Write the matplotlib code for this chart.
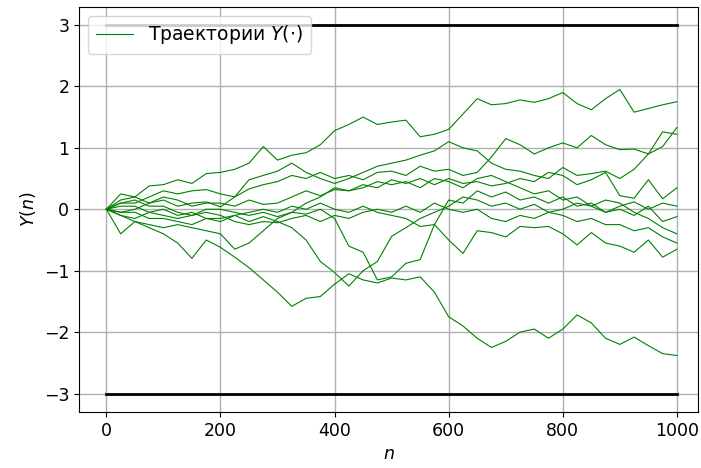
import matplotlib
matplotlib.use("Agg")
import matplotlib.pyplot as plt

steps = list(range(0, 1001, 25))

# trajectories Y(n), values
path_top = [0.0, 0.25, 0.2, 0.38, 0.4, 0.48, 0.42, 0.58, 0.6, 0.65, 0.75, 1.02, 0.8, 0.88, 0.92, 1.05,
            1.28, 1.38, 1.5, 1.38, 1.42, 1.45, 1.18, 1.22, 1.3, 1.55, 1.8, 1.7, 1.72, 1.78, 1.74, 1.8,
            1.9, 1.72, 1.62, 1.8, 1.95, 1.58, 1.64, 1.7, 1.75]
path_a = [0.0, 0.1, 0.1, 0.2, 0.3, 0.25, 0.3, 0.32, 0.25, 0.2, 0.33, 0.4, 0.45, 0.55, 0.5, 0.6,
          0.5, 0.55, 0.48, 0.6, 0.62, 0.55, 0.7, 0.62, 0.65, 0.55, 0.6, 0.85, 1.15, 1.05, 0.9, 1.0,
          1.08, 1.0, 1.2, 1.05, 0.97, 0.98, 0.9, 1.26, 1.22]
path_b = [0.0, -0.05, 0.0, 0.1, 0.15, 0.05, 0.1, 0.12, 0.04, 0.2, 0.48, 0.55, 0.62, 0.75, 0.6, 0.5,
          0.42, 0.5, 0.6, 0.7, 0.75, 0.8, 0.88, 0.95, 1.1, 1.0, 0.95, 0.75, 0.65, 0.62, 0.55, 0.5,
          0.68, 0.55, 0.58, 0.62, 0.5, 0.65, 0.9, 1.02, 1.33]
path_c = [0.0, 0.15, 0.2, 0.1, 0.2, 0.15, 0.05, 0.1, 0.1, 0.05, 0.15, 0.08, 0.1, 0.2, 0.3, 0.22,
          0.32, 0.3, 0.4, 0.35, 0.48, 0.42, 0.5, 0.4, 0.5, 0.42, 0.45, 0.38, 0.42, 0.5, 0.45, 0.6,
          0.55, 0.4, 0.48, 0.6, 0.22, 0.18, 0.48, 0.17, 0.35]
path_d = [0.0, -0.1, -0.15, -0.05, 0.0, -0.1, -0.05, -0.15, -0.15, -0.1, -0.2, -0.12, -0.2, -0.3, -0.5, -0.85,
          -1.03, -1.25, -1.0, -0.85, -0.44, -0.3, -0.15, -0.05, 0.05, 0.2, 0.15, 0.05, 0.1, 0.0, 0.08, -0.05,
          0.0, 0.1, 0.05, -0.05, 0.05, 0.12, 0.0, 0.1, 0.05]
path_e = [0.0, 0.05, 0.05, -0.05, -0.1, -0.15, -0.1, 0.0, 0.0, -0.05, -0.1, -0.05, -0.12, -0.05, -0.08, 0.0,
          -0.15, -0.6, -0.7, -1.15, -1.1, -0.88, -0.82, -0.25, 0.15, 0.1, 0.3, 0.2, 0.28, 0.15, 0.2, 0.1,
          0.2, 0.05, 0.1, -0.05, 0.0, -0.1, 0.05, -0.2, -0.12]
path_f = [0.0, -0.05, -0.05, -0.15, -0.15, -0.2, -0.25, -0.15, -0.2, -0.1, -0.05, 0.0, -0.05, 0.05, 0.0, 0.1,
          0.0, -0.05, 0.05, -0.05, -0.1, -0.15, -0.28, -0.25, -0.5, -0.72, -0.35, -0.38, -0.45, -0.28, -0.3, -0.28,
          -0.4, -0.58, -0.38, -0.55, -0.6, -0.7, -0.5, -0.78, -0.65]
path_g = [0.0, -0.4, -0.2, -0.25, -0.3, -0.25, -0.3, -0.35, -0.4, -0.65, -0.55, -0.35, -0.15, -0.05, 0.1, 0.2,
          0.35, 0.3, 0.35, 0.45, 0.4, 0.45, 0.35, 0.5, 0.45, 0.35, 0.5, 0.55, 0.45, 0.35, 0.25, 0.3,
          0.15, 0.2, 0.05, 0.15, 0.1, -0.05, -0.15, -0.3, -0.4]
path_h = [0.0, 0.1, 0.15, 0.05, 0.05, -0.05, -0.1, -0.05, -0.1, -0.2, -0.25, -0.2, -0.22, -0.15, -0.1, -0.2,
          -0.1, -0.15, -0.05, 0.0, -0.05, 0.05, -0.05, 0.1, 0.0, -0.05, 0.0, -0.15, -0.2, -0.1, -0.15, -0.05,
          -0.1, -0.2, -0.15, -0.25, -0.25, -0.35, -0.3, -0.45, -0.55]
path_low = [0.0, -0.1, -0.2, -0.3, -0.4, -0.55, -0.8, -0.5, -0.62, -0.78, -0.95, -1.15, -1.35, -1.58, -1.45, -1.42,
            -1.22, -1.05, -1.15, -1.2, -1.12, -1.15, -1.1, -1.35, -1.75, -1.9, -2.1, -2.25, -2.15, -2.0, -1.95, -2.1,
            -1.95, -1.72, -1.85, -2.1, -2.2, -2.08, -2.22, -2.35, -2.38]

paths = [path_top, path_a, path_b, path_c, path_d, path_e, path_f, path_g, path_h, path_low]

bound = 3           # the two barriers at +-3
n_end = 1000

plt.rcParams["font.size"] = 12.5

fig = plt.figure(figsize=(7.01, 4.68), dpi=100)
ax = fig.add_axes([79 / 701, 1 - 412 / 468, 619 / 701, 405.5 / 468])

for i, p in enumerate(paths):
    ax.plot(steps, p, color="green", lw=0.8,
            label=r"Траектории $Y(\cdot)$" if i == 0 else None)

ax.plot([0, n_end], [bound, bound], color="black", lw=2)
ax.plot([0, n_end], [-bound, -bound], color="black", lw=2)

ax.set_xlim(-48, 1037)
ax.set_ylim(-3.3, 3.3)
ax.set_xticks([0, 200, 400, 600, 800, 1000])
ax.set_yticks([-3, -2, -1, 0, 1, 2, 3])
ax.grid(True, color="#b0b0b0", lw=1)
ax.set_axisbelow(True)
ax.set_xlabel(r"$n$")
ax.set_ylabel(r"$Y(n)$")
ax.legend(loc="upper left", fontsize=13.5)

fig.savefig("out.png", dpi=100)
